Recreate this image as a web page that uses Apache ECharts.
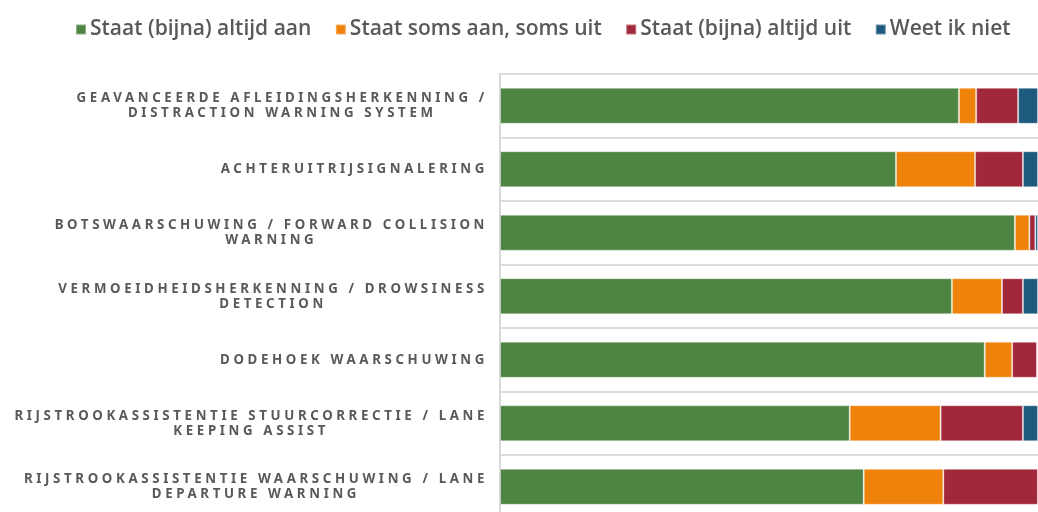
<!DOCTYPE html>
<html><head><meta charset="utf-8">
<script src="https://cdn.jsdelivr.net/npm/echarts@6/dist/echarts.min.js"></script>
<style>html,body{margin:0;padding:0;background:#fff}#c{width:1038px;height:512px}</style>
</head><body><div id="c"></div>
<script>
// ---- data ----
const categories = [
  'GEAVANCEERDE AFLEIDINGSHERKENNING / DISTRACTION WARNING SYSTEM',
  'ACHTERUITRIJSIGNALERING',
  'BOTSWAARSCHUWING / FORWARD COLLISION WARNING',
  'VERMOEIDHEIDSHERKENNING / DROWSINESS DETECTION',
  'DODEHOEK WAARSCHUWING',
  'RIJSTROOKASSISTENTIE STUURCORRECTIE / LANE KEEPING ASSIST',
  'RIJSTROOKASSISTENTIE WAARSCHUWING / LANE DEPARTURE WARNING'
];
const seriesNames = ['Staat (bijna) altijd aan', 'Staat soms aan, soms uit', 'Staat (bijna) altijd uit', 'Weet ik niet'];
const alwaysOn  = [85.3, 73.6, 95.7, 84.0, 90.1, 65.0, 67.6];
const sometimes = [3.2, 14.7, 2.7, 9.3, 5.1, 16.9, 14.8];
const alwaysOff = [7.8, 8.9, 1.1, 3.9, 4.6, 15.3, 17.6];
const dontKnow  = [3.7, 2.8, 0.5, 2.8, 0.2, 2.8, 0.0];

// ---- letter spacing for the category labels (canvas letterSpacing) ----
(function () {
  const P = CanvasRenderingContext2D.prototype;
  if (!('letterSpacing' in P)) return;
  const f = P.fillText, m = P.measureText;
  function ls(ctx) { ctx.letterSpacing = /Noto Sans/.test(ctx.font) ? '3.62px' : '0px'; }
  P.fillText = function () { ls(this); return f.apply(this, arguments); };
  P.measureText = function () { ls(this); return m.apply(this, arguments); };
})();

function wrap(s, max) {
  const words = s.split(' ');
  const lines = [];
  let cur = '';
  for (const w of words) {
    const t = cur ? cur + ' ' + w : w;
    if (t.length > max && cur) { lines.push(cur); cur = w; } else cur = t;
  }
  if (cur) lines.push(cur);
  return lines;
}

const colors = ['#4F8542', '#EF820A', '#A1283A', '#1E5A7E'];
const values = [alwaysOn, sometimes, alwaysOff, dontKnow];

const chart = echarts.init(document.getElementById('c'), null, { renderer: 'canvas' });
chart.setOption({
  animation: false,
  color: colors,
  legend: {
    left: 70, top: 14,
    itemWidth: 10, itemHeight: 10, itemGap: 23.5,
    icon: 'rect',
    textStyle: { fontFamily: 'Open Sans', fontWeight: 600, fontSize: 21, color: '#595959', padding: [0, 0, 0, -1] },
    data: seriesNames
  },
  grid: { left: 500, top: 74, width: 538, height: 444.5, containLabel: false, outerBoundsMode: 'none' },
  xAxis: { type: 'value', min: 0, max: 100, show: false },
  yAxis: {
    type: 'category', inverse: true, data: categories,
    axisTick: { show: false },
    axisLine: { show: true, lineStyle: { color: '#D9D9D9', width: 2 } },
    splitLine: { show: true, lineStyle: { color: '#DCDCDC', width: 2 } },
    axisLabel: {
      margin: 12,
      formatter: v => wrap(v, 42).map(l => '{c|' + l + '}').join('\n'),
      rich: { c: { fontFamily: 'Noto Sans', fontWeight: 'bold', fontSize: 13.3, lineHeight: 15, color: '#595959', align: 'center' } }
    }
  },
  series: seriesNames.map((n, i) => ({
    name: n, type: 'bar', stack: 'total', barWidth: 36,
    itemStyle: { color: colors[i], borderColor: 'rgba(255,255,255,0.35)', borderWidth: 1 },
    data: values[i]
  }))
});
</script>
</body></html>
